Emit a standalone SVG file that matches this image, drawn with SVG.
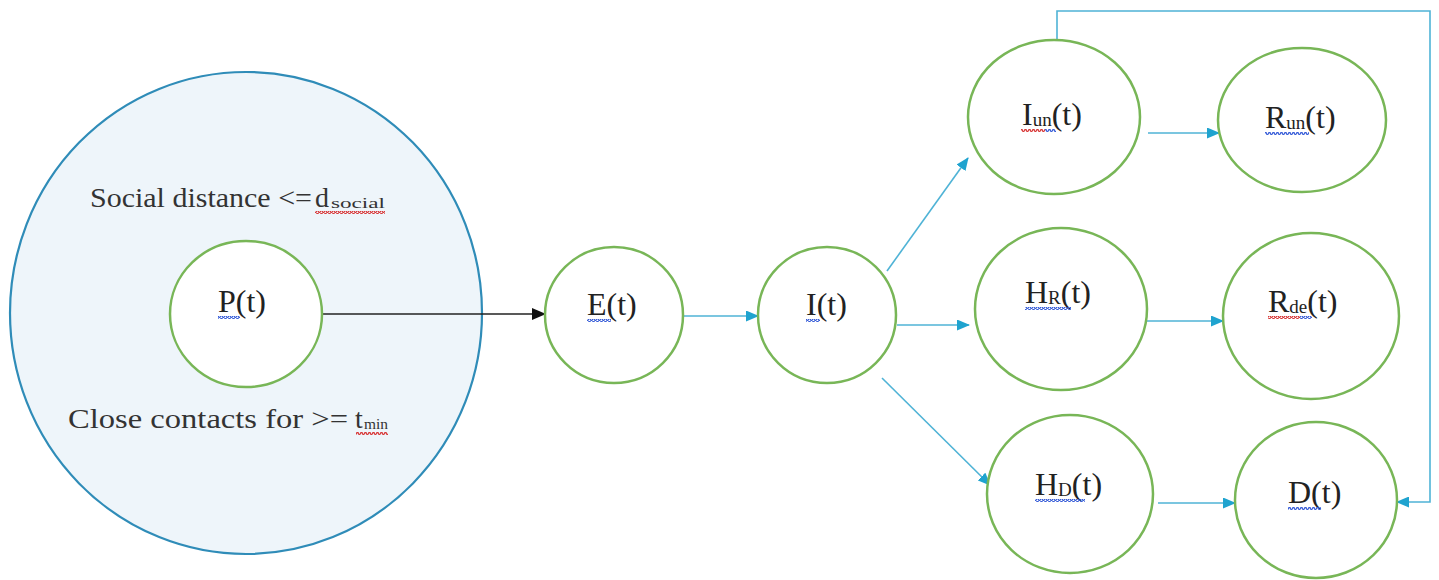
<svg xmlns="http://www.w3.org/2000/svg" width="1439" height="580" viewBox="0 0 1439 580">
<style>
.node{fill:#ffffff;stroke:#78b657;stroke-width:2.5}
.lbl{font-family:"Liberation Serif","Times New Roman",serif;font-size:32px;fill:#222}
.sub{font-size:19px}
.txt{font-family:"Liberation Serif","Times New Roman",serif;font-size:28px;fill:#333}
.stx{font-family:"Liberation Serif","Times New Roman",serif;font-size:15px;fill:#333}
.conn{fill:none;stroke:#4fb3d6;stroke-width:1.6}
.blk{fill:none;stroke:#222;stroke-width:1.6}
</style>
<defs>
<marker id="ab" markerWidth="13" markerHeight="11" refX="12" refY="5.5" orient="auto" markerUnits="userSpaceOnUse"><path d="M0,0 L13,5.5 L0,11 z" fill="#1fa3cf"/></marker>
<marker id="ak" markerWidth="14" markerHeight="12" refX="13" refY="6" orient="auto" markerUnits="userSpaceOnUse"><path d="M0,0 L14,6 L0,12 z" fill="#111"/></marker>
<pattern id="wb" width="4" height="3" patternUnits="userSpaceOnUse"><path d="M0,2.5 L1,0.5 L2,0.5 L3,2.5 L4,2.5" fill="none" stroke="#3a5fd8" stroke-width="1.3"/></pattern>
<pattern id="wr" width="4" height="3" patternUnits="userSpaceOnUse"><path d="M0,2.5 L1,0.5 L2,0.5 L3,2.5 L4,2.5" fill="none" stroke="#d83a3a" stroke-width="1.3"/></pattern>
</defs>
<rect width="1439" height="580" fill="#ffffff"/>
<g id="region">
<ellipse cx="246" cy="313" rx="236" ry="241" fill="#eef5fa" stroke="#2f8cb8" stroke-width="2.2"/>
<text class="txt" x="90" y="207" textLength="222" lengthAdjust="spacingAndGlyphs">Social distance &lt;=</text>
<text class="txt" x="315" y="207">d</text>
<text class="stx" x="331" y="208" textLength="54" lengthAdjust="spacingAndGlyphs">social</text>
<rect x="315" y="211" width="70" height="3" fill="url(#wr)"/>
<text class="txt" x="68" y="428" textLength="280" lengthAdjust="spacingAndGlyphs">Close contacts for &gt;=</text>
<text class="txt" x="355" y="428">t</text>
<text class="stx" x="364" y="429" textLength="24" lengthAdjust="spacingAndGlyphs">min</text>
<rect x="356" y="432" width="32" height="3" fill="url(#wr)"/>
</g>
<g id="connectors">
<line class="blk" x1="322" y1="314" x2="545" y2="314" marker-end="url(#ak)"/>
<line class="conn" x1="684" y1="316" x2="758" y2="316" marker-end="url(#ab)"/>
<line class="conn" x1="897" y1="325" x2="969" y2="325" marker-end="url(#ab)"/>
<line class="conn" x1="887" y1="271" x2="968" y2="158" marker-end="url(#ab)"/>
<line class="conn" x1="882" y1="378" x2="990" y2="485" marker-end="url(#ab)"/>
<line class="conn" x1="1148" y1="133" x2="1219" y2="133" marker-end="url(#ab)"/>
<line class="conn" x1="1147" y1="321" x2="1223" y2="321" marker-end="url(#ab)"/>
<line class="conn" x1="1158" y1="503" x2="1235" y2="503" marker-end="url(#ab)"/>
<path class="conn" d="M1057,41 V11 H1430 V502 H1397" marker-end="url(#ab)"/>
</g>
<g id="P"><ellipse class="node" cx="246" cy="314" rx="76" ry="73"/><text class="lbl" x="218" y="312">P(t)</text><rect x="218" y="316" width="22" height="3" fill="url(#wb)"/></g>
<g id="E"><ellipse class="node" cx="614" cy="315" rx="69" ry="68"/><text class="lbl" x="587" y="315">E(t)</text><rect x="587" y="319" width="24" height="3" fill="url(#wb)"/></g>
<g id="I"><ellipse class="node" cx="827" cy="315" rx="69" ry="68"/><text class="lbl" x="806" y="315">I(t)</text><rect x="806" y="319" width="14" height="3" fill="url(#wb)"/></g>
<g id="Iun"><ellipse class="node" cx="1054" cy="117" rx="86" ry="77"/><text class="lbl" x="1022" y="125">I<tspan class="sub" dy="1">un</tspan><tspan dy="-1">(t)</tspan></text><rect x="1021" y="129" width="24" height="3" fill="url(#wr)"/><rect x="1045" y="129" width="11" height="3" fill="url(#wb)"/></g>
<g id="Run"><ellipse class="node" cx="1302" cy="120" rx="84" ry="72"/><text class="lbl" x="1265" y="128">R<tspan class="sub" dy="1">un</tspan><tspan dy="-1">(t)</tspan></text><rect x="1265" y="132" width="44" height="3" fill="url(#wb)"/></g>
<g id="HR"><ellipse class="node" cx="1061" cy="309" rx="86" ry="81"/><text class="lbl" x="1025" y="303">H<tspan class="sub" dy="1">R</tspan><tspan dy="-1">(t)</tspan></text><rect x="1025" y="307" width="46" height="3" fill="url(#wb)"/></g>
<g id="Rde"><ellipse class="node" cx="1311" cy="316" rx="88" ry="83"/><text class="lbl" x="1268" y="312">R<tspan class="sub" dy="1">de</tspan><tspan dy="-1">(t)</tspan></text><rect x="1268" y="316" width="32" height="3" fill="url(#wr)"/><rect x="1300" y="316" width="12" height="3" fill="url(#wb)"/></g>
<g id="HD"><ellipse class="node" cx="1070" cy="494" rx="83" ry="79"/><text class="lbl" x="1035" y="495">H<tspan class="sub" dy="1">D</tspan><tspan dy="-1">(t)</tspan></text><rect x="1035" y="499" width="50" height="3" fill="url(#wb)"/></g>
<g id="D"><ellipse class="node" cx="1316" cy="500" rx="81" ry="78"/><text class="lbl" x="1288" y="503">D(t)</text><rect x="1288" y="507" width="33" height="3" fill="url(#wb)"/></g>
</svg>
